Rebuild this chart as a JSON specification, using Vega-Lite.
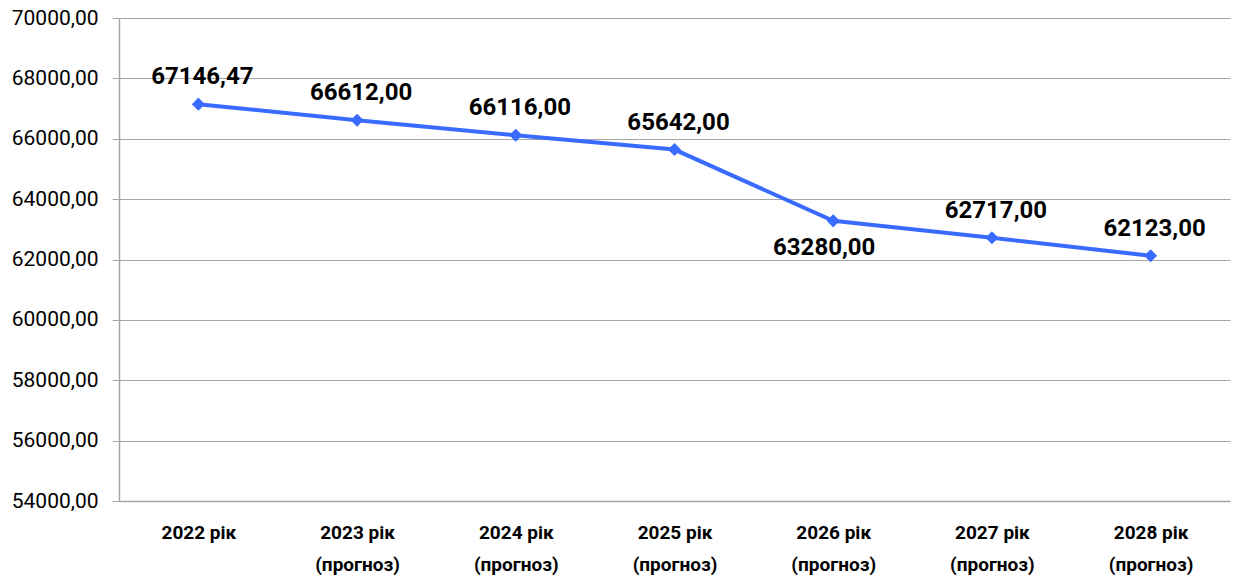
{
  "$schema": "https://vega.github.io/schema/vega-lite/v6.json",
  "width": 1237,
  "height": 577,
  "autosize": {"type": "fit", "contains": "padding"},
  "padding": {"left": 11, "top": 7, "right": 7, "bottom": 3},
  "background": "white",
  "config": {
    "font": "Roboto",
    "view": {"stroke": null}
  },
  "data": {
    "values": [
      {"year": "2022 рік", "value": 67146.47, "label": "67146,47"},
      {"year": "2023 рік|(прогноз)", "value": 66612, "label": "66612,00"},
      {"year": "2024 рік|(прогноз)", "value": 66116, "label": "66116,00"},
      {"year": "2025 рік|(прогноз)", "value": 65642, "label": "65642,00"},
      {"year": "2026 рік|(прогноз)", "value": 63280, "label": "63280,00"},
      {"year": "2027 рік|(прогноз)", "value": 62717, "label": "62717,00"},
      {"year": "2028 рік|(прогноз)", "value": 62123, "label": "62123,00"}
    ]
  },
  "encoding": {
    "x": {
      "field": "year",
      "type": "ordinal",
      "sort": null,
      "scale": {"paddingInner": 0, "paddingOuter": 0.5},
      "axis": {
        "title": null,
        "labelAngle": 0,
        "labelExpr": "split(datum.label, '|')",
        "labelFont": "Roboto",
        "labelFontWeight": "bold",
        "labelFontSize": 19,
        "labelColor": "#000000",
        "labelLineHeight": 32,
        "labelPadding": 22,
        "domainColor": "#a6a6a6",
        "domainWidth": 1.5,
        "ticks": false,
        "grid": false
      }
    },
    "y": {
      "field": "value",
      "type": "quantitative",
      "scale": {"domain": [54000, 70000], "nice": false, "zero": false},
      "axis": {
        "title": null,
        "values": [54000, 56000, 58000, 60000, 62000, 64000, 66000, 68000, 70000],
        "labelExpr": "replace(format(datum.value, '.2f'), '.', ',')",
        "labelFont": "Roboto",
        "labelFontSize": 21,
        "labelColor": "#000000",
        "labelPadding": 14,
        "tickSize": 7,
        "tickColor": "#a6a6a6",
        "domainColor": "#a6a6a6",
        "domainWidth": 1.5,
        "grid": true,
        "gridColor": "#a6a6a6",
        "gridWidth": 1.2
      }
    }
  },
  "layer": [
    {
      "mark": {"type": "line", "color": "#3a6bff", "strokeWidth": 4},
      "encoding": {}
    },
    {
      "mark": {"type": "point", "shape": "diamond", "filled": true, "color": "#3a6bff", "size": 170, "opacity": 1},
      "encoding": {}
    },
    {
      "transform": [{"filter": "datum.year != '2026 рік|(прогноз)'"}],
      "mark": {"type": "text", "dy": -27, "dx": 4, "fontSize": 24, "fontWeight": "bold", "color": "#000000", "font": "Roboto"},
      "encoding": {"text": {"field": "label"}}
    },
    {
      "transform": [{"filter": "datum.year == '2026 рік|(прогноз)'"}],
      "mark": {"type": "text", "dy": 27, "dx": -9, "fontSize": 24, "fontWeight": "bold", "color": "#000000", "font": "Roboto"},
      "encoding": {"text": {"field": "label"}}
    }
  ]
}
